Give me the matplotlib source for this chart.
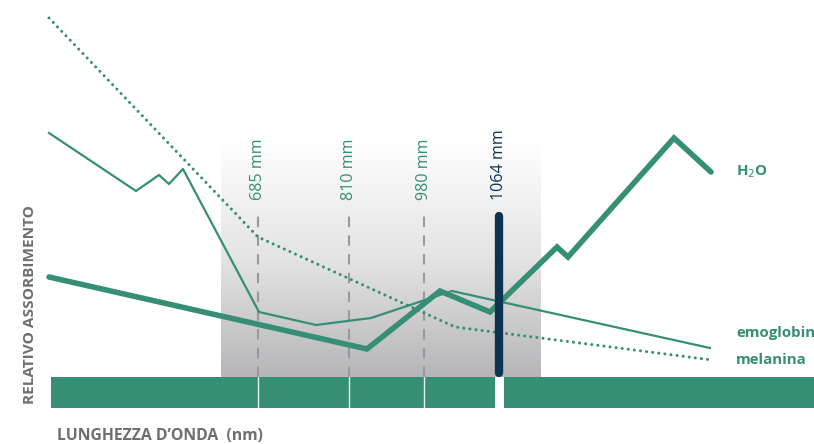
import numpy as np
import matplotlib.pyplot as plt
from matplotlib.colors import LinearSegmentedColormap

# posizione orizzontale (unita del grafico) e assorbimento relativo
melanina_x = [49, 258, 455, 712]
melanina_y = [426, 207, 117, 84]

emoglobin_x = [49, 136, 159, 169, 183, 259, 316, 371, 452, 710]
emoglobin_y = [311, 253, 269, 260, 275, 132, 119, 126, 153, 96]

h2o_x = [49, 367, 440, 490, 557, 568, 674, 711]
h2o_y = [167, 95, 153, 132, 197, 187, 306, 272]

laser_labels = ["685 mm", "810 mm", "980 mm"]
laser_x = [258, 349, 424]
nd_label = "1064 mm"
nd_x = 499

GREEN = "#368f74"
NAVY = "#0d3350"
GRAY_TXT = "#6e6e6e"

fig = plt.figure(figsize=(8.14, 4.44), dpi=100)
ax = fig.add_axes([0, 0, 1, 1])
ax.set_xlim(0, 814)
ax.set_ylim(0, 444)
ax.axis("off")

# zona grigia sfumata
grad = np.linspace(0, 1, 256).reshape(-1, 1)
cmap = LinearSegmentedColormap.from_list("g", ["#b6b6b8", "#e4e4e5", "#ffffff"])
ax.imshow(grad, extent=[221, 541, 67, 304], origin="lower", cmap=cmap,
          aspect="auto", zorder=0)

# banda verde in basso
ax.fill_between([51, 814], 36, 67, color=GREEN, lw=0, zorder=1)
ax.fill_between([495, 504], 36, 67, color="white", lw=0, zorder=2)
for x in laser_x:
    ax.plot([x, x], [36, 67], color="#e8f1ee", lw=1, zorder=2)

# linee tratteggiate delle lunghezze d'onda
for x, lab in zip(laser_x, laser_labels):
    ax.plot([x, x], [67, 234], color="#999999", lw=1.5, ls=(0, (5, 4)), zorder=2)
    ax.text(x, 244, lab, rotation=90, ha="center", va="bottom",
            color=GREEN, fontsize=11.6, family="Open Sans")

# curve
ax.plot(melanina_x, melanina_y, color=GREEN, lw=2.2, ls=(0, (0.01, 2.0)),
        dash_capstyle="round", zorder=3)
ax.plot(emoglobin_x, emoglobin_y, color=GREEN, lw=1.6, zorder=3)
ax.plot(h2o_x, h2o_y, color=GREEN, lw=4, solid_capstyle="round",
        solid_joinstyle="miter", zorder=4)

# 1064 nm
ax.plot([nd_x, nd_x], [71, 228], color=NAVY, lw=6, solid_capstyle="round", zorder=5)
ax.text(nd_x, 244, nd_label, rotation=90, ha="center", va="bottom",
        color=NAVY, fontsize=11.6, family="Open Sans")

# etichette serie
ax.text(736, 272, "H$_2$O", color=GREEN, fontsize=10.8, fontweight="bold",
        va="center", family="Open Sans")
ax.text(736, 111, "emoglobin", color=GREEN, fontsize=10.8, fontweight="bold",
        va="center", family="Open Sans")
ax.text(736, 84, "melanina", color=GREEN, fontsize=10.8, fontweight="bold",
        va="center", family="Open Sans")

# titoli assi
ax.text(30, 139, "RELATIVO ASSORBIMENTO", rotation=90, ha="center", va="center",
        color=GRAY_TXT, fontsize=11.1, fontweight="bold", family="Open Sans")
ax.text(57, 8, "LUNGHEZZA D\u2019ONDA  (nm)", ha="left", va="center",
        color=GRAY_TXT, fontsize=11.3, fontweight="bold", family="Open Sans")

fig.savefig("out.png", dpi=100)
